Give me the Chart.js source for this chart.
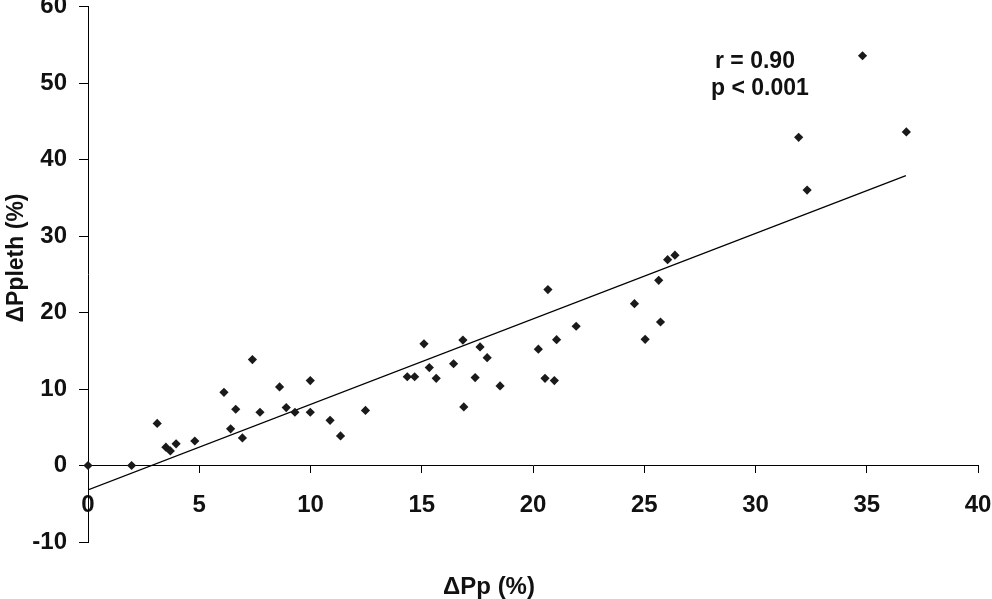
<!DOCTYPE html>
<html>
<head>
<meta charset="utf-8">
<script src="https://cdn.jsdelivr.net/npm/chart.js@4.4.1/dist/chart.umd.min.js"></script>
<style>
  html, body { margin: 0; padding: 0; background: #fff; }
  #wrap { width: 992px; height: 599px; position: relative; }
</style>
</head>
<body>
<div id="wrap"><canvas id="corr"></canvas></div>
<script>
// ── DATA ─────────────────────────────────────────
const dPp = [0, 1.96, 3.11, 3.5, 3.7, 3.96, 4.8, 6.11, 6.41, 6.64, 6.94, 7.39, 7.73,
  8.61, 8.91, 9.3, 9.99, 9.99, 10.88, 11.35, 12.47, 14.35, 14.68, 15.1, 15.34, 15.65,
  16.43, 16.85, 16.89, 17.4, 17.62, 17.94, 18.52, 20.24, 20.54, 20.67, 20.96, 21.06,
  21.94, 24.56, 25.04, 25.65, 25.73, 26.05, 26.38, 31.94, 32.32, 34.81, 36.78];
const dPpleth = [0, 0, 5.5, 2.4, 1.9, 2.83, 3.2, 9.57, 4.79, 7.35, 3.6, 13.84, 6.96,
  10.27, 7.57, 6.96, 11.1, 6.96, 5.9, 3.87, 7.2, 11.6, 11.6, 15.9, 12.8, 11.4,
  13.3, 16.4, 7.66, 11.5, 15.5, 14.1, 10.4, 15.2, 11.4, 23.0, 11.1, 16.45,
  18.2, 21.15, 16.5, 24.2, 18.76, 26.9, 27.5, 42.9, 36.0, 53.56, 43.6];
const fitX = [0, 36.76];
const fitY = [-3.2, 37.9];
const xTicks = [0, 5, 10, 15, 20, 25, 30, 35, 40];
const yTicks = [-10, 0, 10, 20, 30, 40, 50, 60];
const statLines = ['r = 0.90', 'p < 0.001'];
const yTitle = 'ΔPpleth (%)';

const FONT = '"Liberation Sans", Arial, sans-serif';
const INK = '#111';

// ── TEXTOS EXTRAS (estatística + título do eixo Y) ──
const extraText = {
  id: 'extraText',
  afterDraw(chart) {
    const ctx = chart.ctx;
    ctx.save();
    ctx.fillStyle = INK;
    ctx.font = 'bold 23px ' + FONT;
    ctx.textAlign = 'left';
    ctx.textBaseline = 'middle';
    ctx.fillText(statLines[0], 715, 62);
    ctx.fillText(statLines[1], 711, 89);

    ctx.translate(17, 258);
    ctx.rotate(-Math.PI / 2);
    ctx.textAlign = 'center';
    ctx.font = 'bold 23px ' + FONT;
    ctx.fillText(yTitle, 0, 0);
    ctx.restore();
  }
};

function noPad(scale) {
  scale.paddingLeft = 0;
  scale.paddingRight = 0;
  scale.paddingTop = 0;
  scale.paddingBottom = 0;
}

new Chart(document.getElementById('corr'), {
  type: 'scatter',
  data: {
    datasets: [
      {
        label: 'pontos',
        data: dPp.map((x, i) => ({ x, y: dPpleth[i] })),
        pointStyle: 'rectRot',
        pointRadius: 4.6,
        backgroundColor: '#1a1a1a',
        borderColor: '#1a1a1a',
        borderWidth: 0,
        clip: false,
      },
      {
        label: 'ajuste',
        type: 'line',
        data: fitX.map((x, i) => ({ x, y: fitY[i] })),
        borderColor: '#000',
        borderWidth: 1.2,
        pointRadius: 0,
        fill: false,
      },
    ],
  },
  options: {
    responsive: true,
    maintainAspectRatio: false,
    animation: false,
    layout: { padding: { left: 0, right: 14, top: 6.5, bottom: 0 } },
    plugins: {
      legend: { display: false },
      tooltip: { enabled: false },
      title: {
        display: true,
        position: 'bottom',
        text: 'ΔPp (%)',
        color: INK,
        font: { family: FONT, size: 24, weight: 'bold', lineHeight: 1 },
        padding: { top: 33, bottom: 0 },
      },
    },
    scales: {
      x: {
        type: 'linear',
        position: { y: 0 },
        min: 0, max: 40,
        afterBuildTicks: s => { s.ticks = xTicks.map(v => ({ value: v })); },
        afterFit: noPad,
        grid: { drawOnChartArea: false, drawTicks: true, tickLength: 7, color: '#000' },
        border: { display: true, color: '#000', width: 1 },
        ticks: { color: INK, padding: 18, maxRotation: 0, font: { family: FONT, size: 24, weight: 'bold' } },
      },
      y: {
        type: 'linear',
        min: -10, max: 60,
        afterBuildTicks: s => { s.ticks = yTicks.map(v => ({ value: v })); },
        afterFit: s => { noPad(s); s.width = 88; },
        grid: { drawOnChartArea: false, drawTicks: true, tickLength: 9, color: '#000' },
        border: { display: true, color: '#000', width: 1 },
        ticks: { color: INK, padding: 12, font: { family: FONT, size: 24, weight: 'bold' } },
      },
    },
  },
  plugins: [extraText],
});
</script>
</body>
</html>
